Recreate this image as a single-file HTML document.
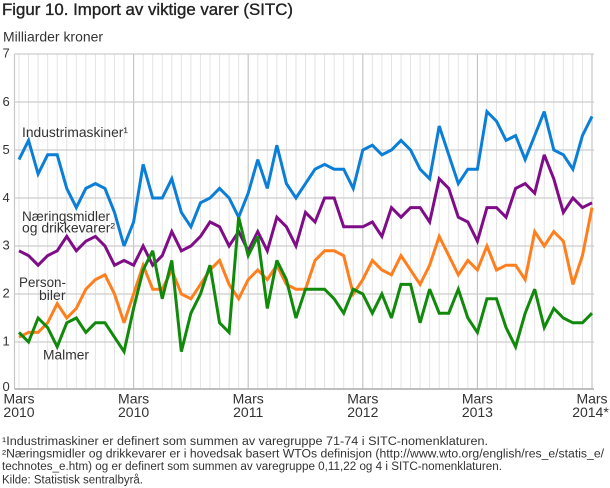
<!DOCTYPE html>
<html>
<head>
<meta charset="utf-8">
<style>
html,body{margin:0;padding:0;background:#fff;}
svg{display:block;}
text{font-family:"Liberation Sans",sans-serif;}
</style>
</head>
<body>
<svg width="610" height="488" viewBox="0 0 610 488" xmlns="http://www.w3.org/2000/svg">
<rect x="0" y="0" width="610" height="488" fill="#fff"/>
<!-- Title -->
<text x="2" y="15" font-size="17" fill="#222" stroke="#222" stroke-width="0.35" textLength="291" lengthAdjust="spacingAndGlyphs">Figur 10. Import av viktige varer (SITC)</text>
<text x="3" y="41.7" font-size="13.5" fill="#333" textLength="100" lengthAdjust="spacingAndGlyphs">Milliarder kroner</text>

<!-- vertical month gridlines -->
<g stroke="#e4e4e4" stroke-width="1">
<line x1="19" y1="54" x2="19" y2="389"/><line x1="28.55" y1="54" x2="28.55" y2="389"/><line x1="38.1" y1="54" x2="38.1" y2="389"/><line x1="47.65" y1="54" x2="47.65" y2="389"/><line x1="57.2" y1="54" x2="57.2" y2="389"/><line x1="66.75" y1="54" x2="66.75" y2="389"/><line x1="76.3" y1="54" x2="76.3" y2="389"/><line x1="85.85" y1="54" x2="85.85" y2="389"/><line x1="95.4" y1="54" x2="95.4" y2="389"/><line x1="104.95" y1="54" x2="104.95" y2="389"/><line x1="114.5" y1="54" x2="114.5" y2="389"/><line x1="124.05" y1="54" x2="124.05" y2="389"/>
<line x1="143.15" y1="54" x2="143.15" y2="389"/><line x1="152.7" y1="54" x2="152.7" y2="389"/><line x1="162.25" y1="54" x2="162.25" y2="389"/><line x1="171.8" y1="54" x2="171.8" y2="389"/><line x1="181.35" y1="54" x2="181.35" y2="389"/><line x1="190.9" y1="54" x2="190.9" y2="389"/><line x1="200.45" y1="54" x2="200.45" y2="389"/><line x1="210" y1="54" x2="210" y2="389"/><line x1="219.55" y1="54" x2="219.55" y2="389"/><line x1="229.1" y1="54" x2="229.1" y2="389"/><line x1="238.65" y1="54" x2="238.65" y2="389"/>
<line x1="257.75" y1="54" x2="257.75" y2="389"/><line x1="267.3" y1="54" x2="267.3" y2="389"/><line x1="276.85" y1="54" x2="276.85" y2="389"/><line x1="286.4" y1="54" x2="286.4" y2="389"/><line x1="295.95" y1="54" x2="295.95" y2="389"/><line x1="305.5" y1="54" x2="305.5" y2="389"/><line x1="315.05" y1="54" x2="315.05" y2="389"/><line x1="324.6" y1="54" x2="324.6" y2="389"/><line x1="334.15" y1="54" x2="334.15" y2="389"/><line x1="343.7" y1="54" x2="343.7" y2="389"/><line x1="353.25" y1="54" x2="353.25" y2="389"/>
<line x1="372.35" y1="54" x2="372.35" y2="389"/><line x1="381.9" y1="54" x2="381.9" y2="389"/><line x1="391.45" y1="54" x2="391.45" y2="389"/><line x1="401" y1="54" x2="401" y2="389"/><line x1="410.55" y1="54" x2="410.55" y2="389"/><line x1="420.1" y1="54" x2="420.1" y2="389"/><line x1="429.65" y1="54" x2="429.65" y2="389"/><line x1="439.2" y1="54" x2="439.2" y2="389"/><line x1="448.75" y1="54" x2="448.75" y2="389"/><line x1="458.3" y1="54" x2="458.3" y2="389"/><line x1="467.85" y1="54" x2="467.85" y2="389"/>
<line x1="486.95" y1="54" x2="486.95" y2="389"/><line x1="496.5" y1="54" x2="496.5" y2="389"/><line x1="506.05" y1="54" x2="506.05" y2="389"/><line x1="515.6" y1="54" x2="515.6" y2="389"/><line x1="525.15" y1="54" x2="525.15" y2="389"/><line x1="534.7" y1="54" x2="534.7" y2="389"/><line x1="544.25" y1="54" x2="544.25" y2="389"/><line x1="553.8" y1="54" x2="553.8" y2="389"/><line x1="563.35" y1="54" x2="563.35" y2="389"/><line x1="572.9" y1="54" x2="572.9" y2="389"/><line x1="582.45" y1="54" x2="582.45" y2="389"/>
</g>
<!-- year gridlines -->
<g stroke="#c6c6c6" stroke-width="1.2">
<line x1="133.6" y1="54" x2="133.6" y2="389"/><line x1="248.2" y1="54" x2="248.2" y2="389"/><line x1="362.8" y1="54" x2="362.8" y2="389"/><line x1="477.4" y1="54" x2="477.4" y2="389"/><line x1="592" y1="54" x2="592" y2="389"/>
<line x1="14.5" y1="54" x2="14.5" y2="389"/>
</g>
<!-- horizontal gridlines -->
<g stroke="#cdcdcd" stroke-width="1.3">
<line x1="14.5" y1="54" x2="594" y2="54"/>
<line x1="14.5" y1="102" x2="594" y2="102"/>
<line x1="14.5" y1="150" x2="594" y2="150"/>
<line x1="14.5" y1="198" x2="594" y2="198"/>
<line x1="14.5" y1="246" x2="594" y2="246"/>
<line x1="14.5" y1="294" x2="594" y2="294"/>
<line x1="14.5" y1="342" x2="594" y2="342"/>
</g>
<line x1="14.5" y1="389" x2="594" y2="389" stroke="#aaaaaa" stroke-width="1.6"/>

<!-- y tick labels -->
<g font-size="13" fill="#333">
<text x="2.5" y="57.5">7</text>
<text x="2.5" y="106">6</text>
<text x="2.5" y="154">5</text>
<text x="2.5" y="202">4</text>
<text x="2.5" y="249.5">3</text>
<text x="2.5" y="297.5">2</text>
<text x="2.5" y="345.5">1</text>
<text x="2.5" y="391">0</text>
</g>

<!-- x labels -->
<g font-size="14" fill="#333" text-anchor="middle">
<text x="19" y="403.5">Mars</text><text x="19" y="417">2010</text>
<text x="133.6" y="403.5">Mars</text><text x="133.6" y="417">2010</text>
<text x="248.2" y="403.5">Mars</text><text x="248.2" y="417">2011</text>
<text x="362.8" y="403.5">Mars</text><text x="362.8" y="417">2012</text>
<text x="477.4" y="403.5">Mars</text><text x="477.4" y="417">2013</text>
<text x="592" y="403.5">Mars</text><text x="590.5" y="417">2014*</text>
</g>

<!-- series -->
<g fill="none" stroke-width="3" stroke-linejoin="miter" stroke-miterlimit="3">
<polyline stroke="#0b7fd7" points="19,159.6 28.55,140.4 38.1,174 47.65,154.8 57.2,154.8 66.75,188.4 76.3,207.6 85.85,188.4 95.4,183.6 104.95,188.4 114.5,212.4 124.05,246 133.6,222 143.15,164.4 152.7,198 162.25,198 171.8,178.8 181.35,212.4 190.9,226.8 200.45,202.8 210,198 219.55,188.4 229.1,198 238.65,217.2 248.2,193.2 257.75,159.6 267.3,188.4 276.85,145.2 286.4,183.6 295.95,198 305.5,183.6 315.05,169.2 324.6,164.4 334.15,169.2 343.7,169.2 353.25,188.4 362.8,150 372.35,145.2 381.9,154.8 391.45,150 401,140.4 410.55,150 420.1,169.2 429.65,178.8 439.2,126 448.75,154.8 458.3,183.6 467.85,169.2 477.4,169.2 486.95,111.6 496.5,121.2 506.05,140.4 515.6,135.6 525.15,159.6 534.7,135.6 544.25,111.6 553.8,150 563.35,154.8 572.9,169.2 582.45,135.6 592,116.4"/>
<polyline stroke="#800d88" points="19,250.8 28.55,255.6 38.1,265.2 47.65,255.6 57.2,250.8 66.75,236.4 76.3,250.8 85.85,241.2 95.4,236.4 104.95,246 114.5,265.2 124.05,260.4 133.6,265.2 143.15,246 152.7,265.2 162.25,255.6 171.8,231.6 181.35,250.8 190.9,246 200.45,236.4 210,222 219.55,226.8 229.1,246 238.65,231.6 248.2,250.8 257.75,231.6 267.3,250.8 276.85,217.2 286.4,226.8 295.95,246 305.5,212.4 315.05,222 324.6,198 334.15,198 343.7,226.8 353.25,226.8 362.8,226.8 372.35,222 381.9,236.4 391.45,207.6 401,217.2 410.55,207.6 420.1,207.6 429.65,222 439.2,178.8 448.75,188.4 458.3,217.2 467.85,222 477.4,241.2 486.95,207.6 496.5,207.6 506.05,217.2 515.6,188.4 525.15,183.6 534.7,193.2 544.25,154.8 553.8,178.8 563.35,212.4 572.9,198 582.45,207.6 592,202.8"/>
<polyline stroke="#ff7f1f" points="19,337.2 28.55,332.4 38.1,332.4 47.65,322.8 57.2,303.6 66.75,318 76.3,308.4 85.85,289.2 95.4,279.6 104.95,274.8 114.5,294 124.05,322.8 133.6,294 143.15,265.2 152.7,289.2 162.25,289.2 171.8,270 181.35,294 190.9,298.8 200.45,284.4 210,270 219.55,260.4 229.1,284.4 238.65,298.8 248.2,279.6 257.75,270 267.3,279.6 276.85,265.2 286.4,284.4 295.95,289.2 305.5,289.2 315.05,260.4 324.6,250.8 334.15,250.8 343.7,255.6 353.25,294 362.8,279.6 372.35,260.4 381.9,270 391.45,274.8 401,255.6 410.55,270 420.1,284.4 429.65,265.2 439.2,236.4 448.75,255.6 458.3,274.8 467.85,260.4 477.4,270 486.95,246 496.5,270 506.05,265.2 515.6,265.2 525.15,279.6 534.7,231.6 544.25,246 553.8,231.6 563.35,241.2 572.9,284.4 582.45,255.6 592,207.6"/>
<polyline stroke="#118a0c" points="19,332.4 28.55,342 38.1,318 47.65,327.6 57.2,346.8 66.75,322.8 76.3,318 85.85,332.4 95.4,322.8 104.95,322.8 114.5,337.2 124.05,351.6 133.6,308.4 143.15,270 152.7,250.8 162.25,298.8 171.8,260.4 181.35,351.6 190.9,313.2 200.45,294 210,265.2 219.55,322.8 229.1,332.4 238.65,217.2 248.2,255.6 257.75,236.4 267.3,308.4 276.85,260.4 286.4,279.6 295.95,318 305.5,289.2 315.05,289.2 324.6,289.2 334.15,298.8 343.7,313.2 353.25,289.2 362.8,294 372.35,313.2 381.9,294 391.45,318 401,284.4 410.55,284.4 420.1,322.8 429.65,289.2 439.2,313.2 448.75,313.2 458.3,289.2 467.85,318 477.4,332.4 486.95,298.8 496.5,298.8 506.05,327.6 515.6,346.8 525.15,313.2 534.7,289.2 544.25,327.6 553.8,308.4 563.35,318 572.9,322.8 582.45,322.8 592,313.2"/>
</g>

<!-- series labels -->
<g font-size="13.5" fill="#333">
<text x="22" y="137" textLength="106" lengthAdjust="spacingAndGlyphs">Industrimaskiner¹</text>
<text x="22" y="221" textLength="88" lengthAdjust="spacingAndGlyphs">Næringsmidler</text>
<text x="22" y="232.5" textLength="93" lengthAdjust="spacingAndGlyphs">og drikkevarer²</text>
<text x="19" y="287" textLength="47" lengthAdjust="spacingAndGlyphs">Person-</text>
<text x="39" y="300" textLength="26.5" lengthAdjust="spacingAndGlyphs">biler</text>
<text x="43" y="359.5" textLength="46" lengthAdjust="spacingAndGlyphs">Malmer</text>
</g>

<!-- footnotes -->
<g font-size="11.5" fill="#333" style="white-space:pre">
<text x="2" y="445" textLength="486" lengthAdjust="spacingAndGlyphs">¹Industrimaskiner er definert som summen av varegruppe 71-74 i SITC-nomenklaturen.</text>
<text x="2" y="457.5" textLength="602" lengthAdjust="spacingAndGlyphs">²Næringsmidler og drikkevarer  er i hovedsak basert WTOs definisjon (http://www.wto.org/english/res_e/statis_e/</text>
<text x="2" y="470" textLength="500" lengthAdjust="spacingAndGlyphs">technotes_e.htm) og er definert som summen av varegruppe 0,11,22 og 4 i SITC-nomenklaturen.</text>
<text x="2" y="483.5" textLength="141" lengthAdjust="spacingAndGlyphs">Kilde: Statistisk sentralbyrå.</text>
</g>
</svg>
</body>
</html>
